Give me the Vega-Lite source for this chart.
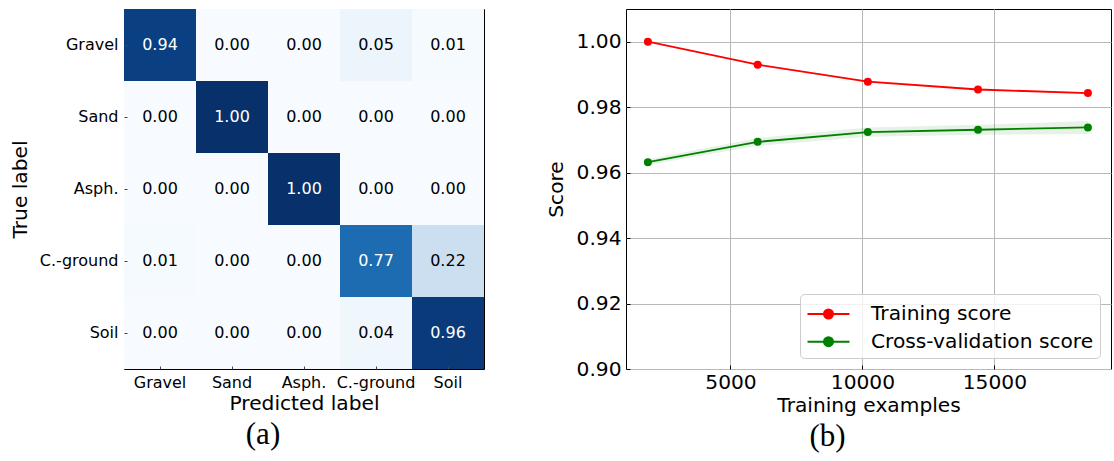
{
  "$schema": "https://vega.github.io/schema/vega-lite/v6.json",
  "padding": {"left": 9, "top": 8, "right": 0, "bottom": 0},
  "background": "white",
  "config": {
    "font": "DejaVu Sans",
    "view": {"stroke": "black", "strokeWidth": 1},
    "axis": {"labelColor": "black", "titleColor": "black", "titleFontWeight": "normal", "domain": false, "tickColor": "black"}
  },
  "datasets": {
    "cm": [
      {"t": "Gravel", "p": "Gravel", "v": 0.94}, {"t": "Gravel", "p": "Sand", "v": 0.0}, {"t": "Gravel", "p": "Asph.", "v": 0.0}, {"t": "Gravel", "p": "C.-ground", "v": 0.05}, {"t": "Gravel", "p": "Soil", "v": 0.01},
      {"t": "Sand", "p": "Gravel", "v": 0.0}, {"t": "Sand", "p": "Sand", "v": 1.0}, {"t": "Sand", "p": "Asph.", "v": 0.0}, {"t": "Sand", "p": "C.-ground", "v": 0.0}, {"t": "Sand", "p": "Soil", "v": 0.0},
      {"t": "Asph.", "p": "Gravel", "v": 0.0}, {"t": "Asph.", "p": "Sand", "v": 0.0}, {"t": "Asph.", "p": "Asph.", "v": 1.0}, {"t": "Asph.", "p": "C.-ground", "v": 0.0}, {"t": "Asph.", "p": "Soil", "v": 0.0},
      {"t": "C.-ground", "p": "Gravel", "v": 0.01}, {"t": "C.-ground", "p": "Sand", "v": 0.0}, {"t": "C.-ground", "p": "Asph.", "v": 0.0}, {"t": "C.-ground", "p": "C.-ground", "v": 0.77}, {"t": "C.-ground", "p": "Soil", "v": 0.22},
      {"t": "Soil", "p": "Gravel", "v": 0.0}, {"t": "Soil", "p": "Sand", "v": 0.0}, {"t": "Soil", "p": "Asph.", "v": 0.0}, {"t": "Soil", "p": "C.-ground", "v": 0.04}, {"t": "Soil", "p": "Soil", "v": 0.96}
    ],
    "curve": [
      {"series": "Training score", "n": 1870, "score": 1.0, "lo": 0.9999, "hi": 1.0001},
      {"series": "Training score", "n": 6030, "score": 0.993, "lo": 0.9928, "hi": 0.9932},
      {"series": "Training score", "n": 10205, "score": 0.9878, "lo": 0.9875, "hi": 0.9881},
      {"series": "Training score", "n": 14380, "score": 0.9854, "lo": 0.9851, "hi": 0.9857},
      {"series": "Training score", "n": 18545, "score": 0.9843, "lo": 0.984, "hi": 0.9846},
      {"series": "Cross-validation score", "n": 1870, "score": 0.9632, "lo": 0.9623, "hi": 0.9641},
      {"series": "Cross-validation score", "n": 6030, "score": 0.9694, "lo": 0.9682, "hi": 0.9706},
      {"series": "Cross-validation score", "n": 10205, "score": 0.9724, "lo": 0.971, "hi": 0.9738},
      {"series": "Cross-validation score", "n": 14380, "score": 0.9731, "lo": 0.9716, "hi": 0.9746},
      {"series": "Cross-validation score", "n": 18545, "score": 0.9738, "lo": 0.9718, "hi": 0.9758}
    ]
  },
  "hconcat": [
    {
      "width": 360,
      "height": 360,
      "data": {"name": "cm"},
      "title": {"text": "(a)", "orient": "bottom", "anchor": "middle", "frame": "group", "dx": -41, "offset": 7, "font": "Liberation Serif", "fontSize": 31, "fontWeight": "normal", "color": "black"},
      "encoding": {
        "x": {"field": "p", "type": "ordinal", "sort": ["Gravel", "Sand", "Asph.", "C.-ground", "Soil"], "scale": {"paddingInner": 0, "paddingOuter": 0},
          "axis": {"title": "Predicted label", "labelAngle": 0, "labelFontSize": 16, "titleFontSize": 20.2, "tickSize": -3, "tickColor": "#444444", "labelPadding": 8, "titlePadding": 3}},
        "y": {"field": "t", "type": "ordinal", "sort": ["Gravel", "Sand", "Asph.", "C.-ground", "Soil"], "scale": {"paddingInner": 0, "paddingOuter": 0},
          "axis": {"title": "True label", "labelFontSize": 16, "titleFontSize": 20.2, "tickSize": -3, "tickColor": "#444444", "labelPadding": 9, "titlePadding": 9, "minExtent": 85, "maxExtent": 85}}
      },
      "layer": [
        {"mark": {"type": "rect"},
          "encoding": {"color": {"field": "v", "type": "quantitative", "legend": null,
            "scale": {"type": "linear", "domain": [0, 0.125, 0.25, 0.375, 0.5, 0.625, 0.75, 0.875, 1], "range": ["#f7fbff", "#deebf7", "#c6dbef", "#9ecae1", "#6baed6", "#4292c6", "#2171b5", "#08519c", "#08306b"]}}}},
        {"mark": {"type": "text", "fontSize": 16, "baseline": "middle", "align": "center"},
          "encoding": {"text": {"field": "v", "type": "quantitative", "format": ".2f"},
            "color": {"condition": {"test": "datum.v > 0.5", "value": "white"}, "value": "black"}}}
      ]
    },
    {
      "width": 485,
      "height": 360,
      "data": {"name": "curve"},
      "title": {"text": "(b)", "orient": "bottom", "anchor": "middle", "frame": "group", "dx": -41, "offset": 7, "font": "Liberation Serif", "fontSize": 31, "fontWeight": "normal", "color": "black"},
      "encoding": {
        "x": {"field": "n", "type": "quantitative", "scale": {"domain": [1040, 19420], "nice": false, "zero": false},
          "axis": {"title": "Training examples", "values": [5000, 10000, 15000], "format": "d", "labelFontSize": 20.2, "titleFontSize": 20.2, "tickSize": -4, "labelPadding": 7, "titlePadding": 3, "grid": true, "gridColor": "#b8b8b8", "gridWidth": 1}},
        "y": {"field": "score", "type": "quantitative", "scale": {"domain": [0.9, 1.01], "nice": false, "zero": false},
          "axis": {"title": "Score", "values": [0.9, 0.92, 0.94, 0.96, 0.98, 1.0], "format": ".2f", "labelFontSize": 20.2, "titleFontSize": 20.2, "tickSize": -4, "labelPadding": 9, "titlePadding": 9, "minExtent": 50.5, "maxExtent": 50.5, "grid": true, "gridColor": "#b8b8b8", "gridWidth": 1}},
        "color": {"field": "series", "type": "nominal", "scale": {"domain": ["Training score", "Cross-validation score"], "range": ["#ff0000", "#008000"]}}
      },
      "resolve": {"legend": {"color": "independent"}},
      "layer": [
        {"mark": {"type": "area", "opacity": 0.1},
          "encoding": {"y": {"field": "lo", "type": "quantitative"}, "y2": {"field": "hi"}, "color": {"field": "series", "type": "nominal", "legend": null}}},
        {"mark": {"type": "line", "strokeWidth": 1.8},
          "encoding": {"color": {"field": "series", "type": "nominal",
            "legend": {"title": null, "orient": "bottom-right", "offset": 11, "labelFontSize": 20.2, "labelColor": "black", "labelLimit": 400,
              "symbolType": "M-1.615,0L1.615,0M0.346,0A0.346,0.346,0,1,1,-0.346,0A0.346,0.346,0,1,1,0.346,0Z",
              "symbolSize": 676, "symbolStrokeWidth": 2, "symbolOffset": 8.5, "labelOffset": 28.5, "rowPadding": 2.7, "padding": 6,
              "fillColor": "rgba(255,255,255,0.8)", "strokeColor": "#cccccc", "cornerRadius": 4,
              "encode": {"symbols": {"update": {"fill": {"signal": "datum.value === 'Training score' ? '#ff0000' : '#008000'"}, "stroke": {"signal": "datum.value === 'Training score' ? '#ff0000' : '#008000'"}, "opacity": {"value": 1}, "fillOpacity": {"value": 1}}}}}}}},
        {"mark": {"type": "point", "filled": true, "opacity": 1, "size": 64},
          "encoding": {"color": {"field": "series", "type": "nominal", "legend": null}}}
      ]
    }
  ],
  "spacing": 61
}
